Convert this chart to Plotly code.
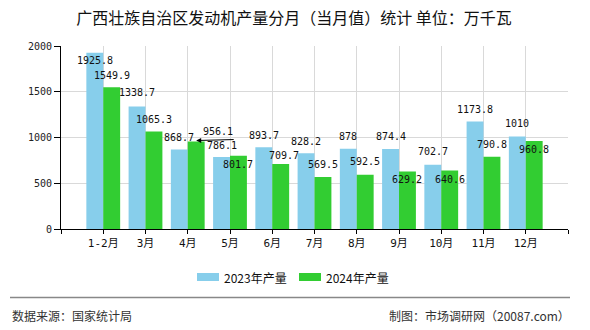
import plotly.graph_objects as go

categories = ["1-2月", "3月", "4月", "5月", "6月", "7月", "8月", "9月", "10月", "11月", "12月"]
values_2023 = [1925.8, 1338.7, 868.7, 786.1, 893.7, 828.2, 878, 874.4, 702.7, 1173.8, 1010]
values_2024 = [1549.9, 1065.3, 956.1, 801.7, 709.7, 569.5, 592.5, 629.2, 640.6, 790.8, 960.8]
labels_2023 = ["1925.8", "1338.7", "868.7", "786.1", "893.7", "828.2", "878", "874.4", "702.7", "1173.8", "1010"]
labels_2024 = ["1549.9", "1065.3", "956.1", "801.7", "709.7", "569.5", "592.5", "629.2", "640.6", "790.8", "960.8"]
y_ticks = [0, 500, 1000, 1500, 2000]
series_names = ["2023年产量", "2024年产量"]

# label placement offsets (pixels) - styling only
shift_2023 = [-8, 14, 12, 12, 12, 12, 12, 12, 13, 12, 13]
shift_2024 = [12, 12, 10, -9, 9, 12, 13, -8, -9, 12, -8]
xshift_2024 = [0, 0, 22, 0, 3, 0, 0, 0, 0, 0, 0]

W, H = 590, 330
L, R, T, B = 61, 568, 46, 229
def px(x):
    return (x - L) / (R - L)
def py(y):
    return (B - y) / (B - T)

BLUE = "#87CEEB"
GREEN = "#32CD32"
idx = list(range(len(categories)))

fig = go.Figure()
fig.add_trace(go.Bar(x=idx, y=values_2023, name=series_names[0], marker_color=BLUE,
                     marker_line_width=0, showlegend=False))
fig.add_trace(go.Bar(x=idx, y=values_2024, name=series_names[1], marker_color=GREEN,
                     marker_line_width=0, showlegend=False))

num_font = dict(family="DejaVu Sans Mono, Liberation Mono, monospace", size=10, color="#111")
ann = []
for i in idx:
    ann.append(dict(x=i - 0.2, y=values_2023[i], xref="x", yref="y", text=labels_2023[i],
                    showarrow=False, yshift=shift_2023[i], xanchor="center", yanchor="middle",
                    font=num_font))
    ann.append(dict(x=i + 0.2, y=values_2024[i], xref="x", yref="y", text=labels_2024[i],
                    showarrow=False, yshift=shift_2024[i], xshift=xshift_2024[i],
                    xanchor="center", yanchor="middle", font=num_font))
# leader line for the displaced 4月 label
ann.append(dict(x=2 + 0.2, y=values_2024[2], xref="x", yref="y", text="", showarrow=True,
                ax=39, ay=-1, arrowhead=2, arrowsize=1, arrowwidth=1, arrowcolor="#000",
                yshift=1, standoff=0))

# footer texts
foot_font = dict(family="Noto Sans CJK SC, sans-serif", size=12, color="#333")
ann.append(dict(x=px(10), y=py(315), xref="paper", yref="paper", text="数据来源：国家统计局",
                showarrow=False, xanchor="left", yanchor="middle", font=foot_font))
ann.append(dict(x=px(572), y=py(315), xref="paper", yref="paper", text="制图：市场调研网（20087.com）",
                showarrow=False, xanchor="right", yanchor="middle", font=foot_font))

# manual legend
leg_font = dict(family="Noto Sans CJK SC, sans-serif", size=12, color="#111")
shapes = []
for sx, col, name in [(197, BLUE, series_names[0]), (299, GREEN, series_names[1])]:
    shapes.append(dict(type="rect", xref="paper", yref="paper", x0=px(sx), x1=px(sx + 22),
                       y0=py(281), y1=py(273), fillcolor=col, line_width=0))
    ann.append(dict(x=px(sx + 25), y=py(277), xref="paper", yref="paper", text=name,
                    showarrow=False, xanchor="left", yanchor="middle", font=leg_font))
shapes.append(dict(type="line", xref="paper", yref="paper", x0=px(10), x1=px(570),
                   y0=py(297.5), y1=py(297.5), line=dict(color="#888", width=1.5)))

fig.update_layout(
    width=W, height=H,
    margin=dict(l=L, r=W - R, t=T, b=H - B, autoexpand=False),
    paper_bgcolor="white", plot_bgcolor="white",
    barmode="group", bargap=0.2, bargroupgap=0,
    title=dict(text="广西壮族自治区发动机产量分月（当月值）统计 单位：万千瓦",
               x=294 / W, xanchor="center", y=1 - 18 / H, yanchor="middle",
               font=dict(family="Noto Sans CJK SC, sans-serif", size=16, color="#111")),
    annotations=ann, shapes=shapes,
    xaxis=dict(range=[-1, 11], tickmode="array", tickvals=list(range(-1, 12)),
               ticktext=[""] + categories + [""],
               showline=True, linecolor="#000", linewidth=1,
               ticks="outside", ticklen=4, tickcolor="#000",
               showgrid=True, gridcolor="#d9d9d9", gridwidth=1, zeroline=False,
               tickfont=dict(family="DejaVu Sans Mono, Noto Sans CJK SC, monospace", size=11, color="#111")),
    yaxis=dict(range=[0, 2000], tickmode="array", tickvals=y_ticks,
               showline=True, linecolor="#000", linewidth=1,
               ticks="outside", ticklen=6, tickcolor="#000",
               showgrid=True, gridcolor="#d9d9d9", gridwidth=1, zeroline=False,
               tickfont=dict(family="DejaVu Sans Mono, monospace", size=10, color="#222")),
)

fig.write_html("out.html")
